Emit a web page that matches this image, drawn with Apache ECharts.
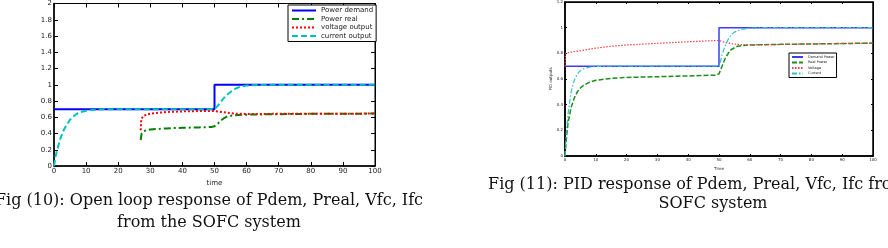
<!DOCTYPE html>
<html><head><meta charset="utf-8">
<script src="https://cdn.jsdelivr.net/npm/echarts@6/dist/echarts.min.js"></script>
<style>html,body{margin:0;padding:0;background:#fff}#c{width:888px;height:248px}</style>
</head><body><div id="c"></div>
<script>
// ---- Fig 10: open loop ----
const xTicks = 10;
const olDemand = [[0,0.7],[50,0.7],[50,1],[100,1]];
const olReal = [[27,0.32],[27.3,0.4],[28,0.43],[30,0.45],[35,0.463],[40,0.47],[45,0.475],[49,0.48],[50,0.49],[51,0.52],[52,0.56],[53,0.59],[54,0.61],[56,0.625],[60,0.632],[70,0.638],[80,0.642],[100,0.645]];
const olVoltage = [[27,0.44],[27.2,0.58],[28,0.62],[30,0.645],[35,0.665],[40,0.672],[45,0.676],[49,0.678],[50,0.675],[52,0.665],[54,0.655],[56,0.645],[60,0.64],[70,0.642],[100,0.645]];
const olCurrent = [[0,0],[0.5,0.12],[1,0.2],[2,0.34],[3,0.44],[4,0.51],[5,0.57],[6,0.61],[7,0.64],[8,0.66],[10,0.68],[12,0.69],[15,0.698],[20,0.7],[50,0.7],[51,0.74],[52,0.79],[53,0.84],[54,0.88],[55,0.91],[56,0.94],[57,0.96],[58,0.975],[60,0.99],[63,0.998],[70,1],[100,1]];
const olNames = ['Power demand','Power real','voltage output','current output'];
// ---- Fig 11: PID ----
const pidDemand = [[0,0.7],[50,0.7],[50,1],[100,1]];
const pidReal = [[0,0],[0.5,0.15],[1,0.26],[2,0.38],[3,0.45],[4,0.5],[5,0.53],[6,0.55],[8,0.575],[10,0.59],[15,0.605],[20,0.612],[30,0.618],[40,0.624],[49,0.63],[50,0.64],[51,0.7],[52,0.76],[53,0.8],[54,0.83],[56,0.855],[58,0.862],[60,0.865],[70,0.87],[80,0.873],[90,0.876],[100,0.88]];
const pidVoltage = [[0,0.7],[0.2,0.8],[2,0.81],[5,0.82],[10,0.84],[15,0.855],[20,0.865],[30,0.878],[40,0.89],[49,0.9],[50,0.9],[52,0.885],[54,0.875],[57,0.868],[60,0.866],[70,0.869],[80,0.873],[90,0.876],[100,0.88]];
const pidCurrent = [[0,0],[0.5,0.2],[1,0.33],[2,0.5],[3,0.59],[4,0.64],[5,0.665],[6,0.68],[8,0.693],[10,0.698],[15,0.7],[50,0.7],[50.5,0.74],[51,0.79],[52,0.86],[53,0.91],[54,0.945],[55,0.965],[57,0.985],[60,0.996],[65,1],[100,1]];
const pidNames = ['Demand Power','Real Power','Voltage','Current'];
const captions = ['Fig (10): Open loop response of Pdem, Preal, Vfc, Ifc\nfrom the SOFC system',
                  'Fig (11): PID response of Pdem, Preal, Vfc, Ifc from the\nSOFC system'];

const chart = echarts.init(document.getElementById('c'));
function xAx(g, pos, fs, name, gap){
  return {gridIndex:g, type:'value', min:0, max:100, interval:xTicks, position:pos,
    axisLine:{show:true, onZero:false, lineStyle:{color:'#000', width: pos==='bottom'?1.5:1}},
    axisTick:{show:true, inside:true, length: fs>5?4:2, lineStyle:{color:'#000'}},
    axisLabel:{show:pos==='bottom', fontSize:fs, color:'#222', margin:2, fontFamily:'DejaVu Sans'},
    splitLine:{show:false},
    name: pos==='bottom'?name:'', nameLocation:'middle', nameGap:gap,
    nameTextStyle:{fontSize:fs, color:'#222', fontFamily:'DejaVu Sans'}};
}
function yAx(g, pos, fs, max, name, gap){
  return {gridIndex:g, type:'value', min:0, max:max, interval:0.2, position:pos,
    axisLine:{show:true, onZero:false, lineStyle:{color:'#000', width: pos==='left'?1.5:1}},
    axisTick:{show:true, inside:true, length: fs>5?4:2, lineStyle:{color:'#000'}},
    axisLabel:{show:pos==='left', fontSize:fs, color:'#222', margin:2, fontFamily:'DejaVu Sans'},
    splitLine:{show:false},
    name: pos==='left'?name:'', nameLocation:'middle', nameGap:gap,
    nameTextStyle:{fontSize:fs, color:'#222', fontFamily:'DejaVu Sans'}};
}
function ser(name, data, xi, yi, color, w, type){
  return {name, type:'line', data, xAxisIndex:xi, yAxisIndex:yi, symbol:'none', showSymbol:false, smooth:false,
    lineStyle:{color, width:w, type}, itemStyle:{color}, animation:false, z: name.indexOf('emand')>=0?1:2};
}
chart.setOption({
  animation:false,
  grid:[
    {left:54, top:2, width:321, height:164, show:true, borderColor:'#000', borderWidth:1},
    {left:565, top:1, width:308, height:155, show:true, borderColor:'#000', borderWidth:1.5}
  ],
  xAxis:[xAx(0,'bottom',7,'time',13), xAx(0,'top',7,'',0), xAx(1,'bottom',4,'Time',8), xAx(1,'top',4,'',0)],
  yAxis:[yAx(0,'left',7,2,'',0), yAx(0,'right',7,2,'',0), yAx(1,'left',4,1.2,'PID outputs',11), yAx(1,'right',4,1.2,'',0)],
  legend:[
    {data:olNames, orient:'vertical', left:288, top:5, width:84, padding:[2,3,2,3], itemGap:1.5,
     itemWidth:24, itemHeight:7, borderColor:'#000', borderWidth:1, backgroundColor:'#fff',
     itemStyle:{opacity:0}, textStyle:{fontSize:7, color:'#222', fontFamily:'DejaVu Sans'}},
    {data:pidNames, orient:'vertical', left:789, top:53, padding:[2,2,2,2], itemGap:1.5,
     itemWidth:11, itemHeight:4, borderColor:'#000', borderWidth:1, backgroundColor:'#fff',
     itemStyle:{opacity:0}, textStyle:{fontSize:3.5, color:'#222', fontFamily:'DejaVu Sans'}}
  ],
  series:[
    ser(olNames[0], olDemand, 0, 0, '#0000ff', 2, 'solid'),
    ser(olNames[1], olReal, 0, 0, '#008000', 2, [7,3,2,3]),
    ser(olNames[2], olVoltage, 0, 0, '#ff0000', 2, [2,2]),
    ser(olNames[3], olCurrent, 0, 0, '#00bfbf', 2, [6,3]),
    ser(pidNames[0], pidDemand, 2, 2, '#3c3cf0', 1.5, 'solid'),
    ser(pidNames[1], pidReal, 2, 2, '#1e8c1e', 1.5, [5,2]),
    ser(pidNames[2], pidVoltage, 2, 2, '#f04040', 1.2, [1.5,1.5]),
    ser(pidNames[3], pidCurrent, 2, 2, '#30c0c8', 1.2, [5,2,1.5,2])
  ],
  graphic:[
    {type:'text', x:209, y:190, style:{text:captions[0], fill:'#111', font:'16px "DejaVu Serif"', textAlign:'center', lineHeight:22}},
    {type:'text', x:713, y:175, style:{text:captions[1], fill:'#111', font:'16px "DejaVu Serif"', textAlign:'center', lineHeight:19}}
  ]
});
</script></body></html>
